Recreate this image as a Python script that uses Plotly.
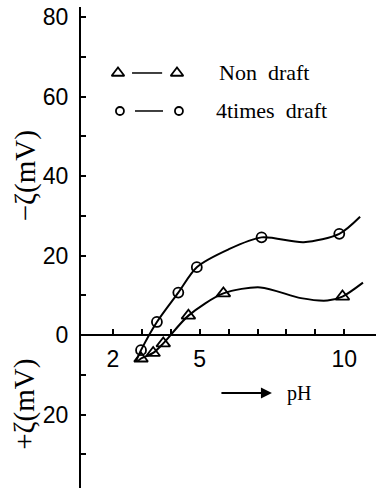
import plotly.graph_objects as go

# ---- data ----
# 4 times draft (circles)
draft4_ph = [2.97, 3.52, 4.26, 4.90, 7.14, 9.83]
draft4_zeta = [-3.8, 3.3, 10.7, 17.1, 24.6, 25.5]
draft4_curve_ph = [2.79, 2.97, 3.52, 4.26, 4.90, 6.0, 7.14, 8.6, 9.83, 10.55]
draft4_curve_zeta = [-6.7, -3.8, 3.3, 10.7, 17.1, 21.6, 24.6, 23.4, 25.5, 29.8]

# Non draft (triangles)
non_ph = [2.97, 3.39, 3.74, 4.61, 5.82, 9.94]
non_zeta = [-5.9, -4.5, -2.1, 4.9, 10.5, 9.7]
non_curve_ph = [2.85, 2.97, 3.39, 3.74, 4.61, 5.82, 7.1, 8.5, 9.42, 9.94, 10.65]
non_curve_zeta = [-6.6, -5.9, -4.5, -2.1, 4.9, 10.5, 12.0, 9.3, 8.7, 9.7, 13.2]

x_tickvals = [2, 3, 4, 5, 6, 7, 8, 9, 10]
x_ticktext = ["2", "", "", "5", "", "", "", "", "10"]
y_tickvals = [-30, -20, -10, 0, 10, 20, 30, 40, 50, 60, 70, 80]
y_ticktext = ["", "20", "", "0", "", "20", "", "40", "", "60", "", "80"]

series_names = ["Non draft", "4times draft"]

X_RANGE = [0.893, 11.1]
Y_RANGE = [-38.5, 82.6]

LINE = dict(color="black", width=2)
tri_marker = dict(symbol="triangle-up-open", size=12, color="black", line=dict(width=1.8, color="black"))
circ_marker = dict(symbol="circle-open", size=10, color="black", line=dict(width=1.8, color="black"))

fig = go.Figure()
fig.add_trace(go.Scatter(x=draft4_curve_ph, y=draft4_curve_zeta, mode="lines",
                         line=dict(shape="spline", smoothing=0.8, **LINE), hoverinfo="skip"))
fig.add_trace(go.Scatter(x=non_curve_ph, y=non_curve_zeta, mode="lines",
                         line=dict(shape="spline", smoothing=0.8, **LINE), hoverinfo="skip"))
fig.add_trace(go.Scatter(x=draft4_ph, y=draft4_zeta, mode="markers", marker=circ_marker,
                         name=series_names[1]))
fig.add_trace(go.Scatter(x=non_ph, y=non_zeta, mode="markers", marker=tri_marker,
                         name=series_names[0]))

# legend glyphs on an overlay paper-like axis
LEG_Y1, LEG_Y2 = 0.8628, 0.7838
fig.add_trace(go.Scatter(x=[0.1254, 0.3254], y=[LEG_Y1, LEG_Y1], mode="markers",
                         marker=dict(symbol="triangle-up-open", size=11, color="black",
                                     line=dict(width=1.8, color="black")),
                         xaxis="x2", yaxis="y2", hoverinfo="skip"))
fig.add_trace(go.Scatter(x=[0.132, 0.332], y=[LEG_Y2, LEG_Y2], mode="markers",
                         marker=dict(symbol="circle-open", size=8, color="black",
                                     line=dict(width=1.8, color="black")),
                         xaxis="x2", yaxis="y2", hoverinfo="skip"))
fig.add_shape(type="line", xref="x2", yref="y2", x0=0.173, x1=0.275, y0=LEG_Y1, y1=LEG_Y1,
              line=dict(color="black", width=1.5))
fig.add_shape(type="line", xref="x2", yref="y2", x0=0.183, x1=0.278, y0=LEG_Y2, y1=LEG_Y2,
              line=dict(color="black", width=1.5))

y0_frac = (0 - Y_RANGE[0]) / (Y_RANGE[1] - Y_RANGE[0])

fig.update_layout(
    width=376, height=488,
    margin=dict(l=81, r=0, t=7, b=0),
    paper_bgcolor="white", plot_bgcolor="white",
    showlegend=False,
    xaxis=dict(range=X_RANGE, anchor="free", position=y0_frac,
               tickvals=x_tickvals, ticktext=x_ticktext,
               ticks="inside", ticklen=5, tickwidth=1.5, tickcolor="black",
               showline=True, linecolor="black", linewidth=2,
               showgrid=False, zeroline=False,
               tickfont=dict(family="Liberation Sans", size=23, color="black"),
               ticklabelstandoff=3),
    yaxis=dict(range=Y_RANGE, tickvals=y_tickvals, ticktext=y_ticktext,
               ticks="inside", ticklen=5, tickwidth=1.5, tickcolor="black",
               showline=True, linecolor="black", linewidth=2,
               showgrid=False, zeroline=False,
               tickfont=dict(family="Liberation Sans", size=23, color="black"),
               ticklabelstandoff=6),
    xaxis2=dict(range=[0, 1], overlaying="x", visible=False, fixedrange=True),
    yaxis2=dict(range=[0, 1], overlaying="y", visible=False, fixedrange=True),
)

serif = dict(family="Liberation Serif", color="black")
fig.add_annotation(text="Non\u00a0 draft", xref="x2", yref="y2", x=0.462, y=LEG_Y1,
                   xanchor="left", yanchor="middle", showarrow=False, font=dict(size=22, **serif))
fig.add_annotation(text="4times\u00a0 draft", xref="x2", yref="y2", x=0.452, y=LEG_Y2,
                   xanchor="left", yanchor="middle", showarrow=False, font=dict(size=22, **serif))
fig.add_annotation(text="\u2212\u03b6(mV)", xref="paper", yref="paper", x=-0.19, y=0.65,
                   xanchor="center", yanchor="middle", textangle=-90, showarrow=False,
                   font=dict(size=29, **serif))
fig.add_annotation(text="+\u03b6(mV)", xref="paper", yref="paper", x=-0.19, y=0.175,
                   xanchor="center", yanchor="middle", textangle=-90, showarrow=False,
                   font=dict(size=29, **serif))
# arrow -> pH
fig.add_annotation(x=7.5, y=-14.6, ax=5.7, ay=-14.6, xref="x", yref="y", axref="x", ayref="y",
                   text="", showarrow=True, arrowhead=2, arrowsize=1.1, arrowwidth=2,
                   arrowcolor="black")
fig.add_annotation(text="pH", x=8.44, y=-14.6, xref="x", yref="y", showarrow=False,
                   xanchor="center", yanchor="middle", font=dict(size=20, **serif))

fig.write_html("out.html")
